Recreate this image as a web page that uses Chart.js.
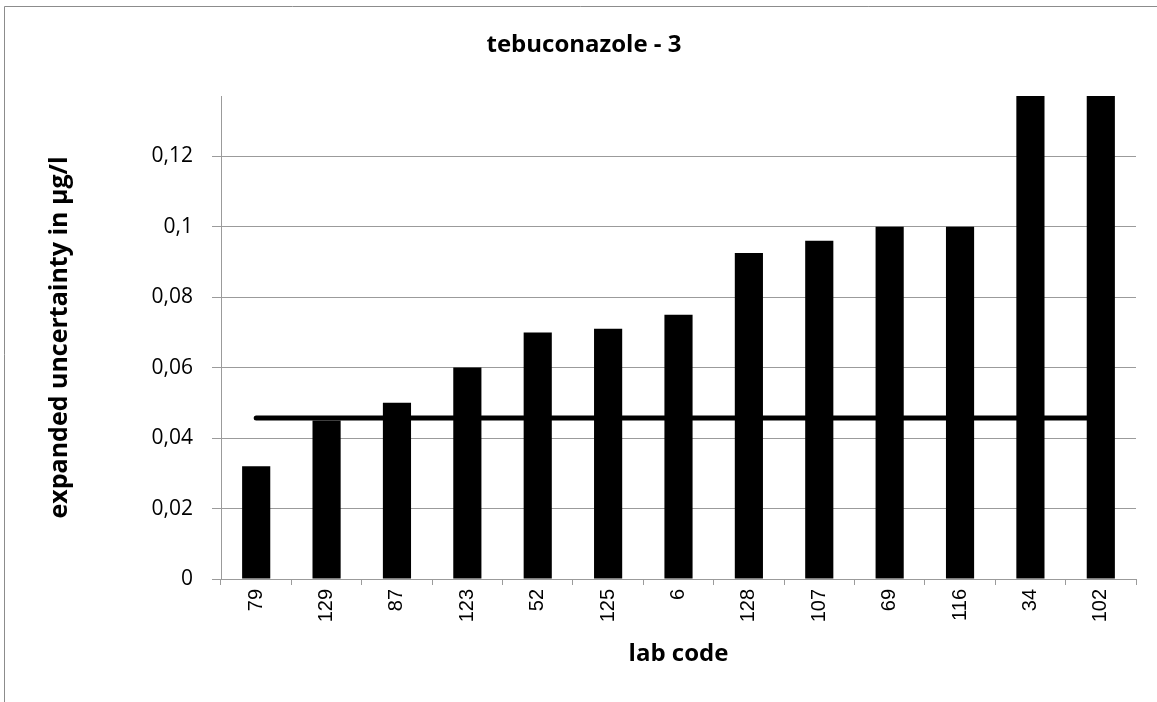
<!DOCTYPE html>
<html>
<head>
<meta charset="utf-8">
<script src="https://cdn.jsdelivr.net/npm/chart.js@4/dist/chart.umd.min.js"></script>
<style>
  html, body { margin: 0; padding: 0; background: #fff; }
  #wrap { width: 1157px; height: 702px; position: relative; }
</style>
</head>
<body>
<div id="wrap"><canvas id="c" width="1157" height="702"></canvas></div>
<script>
const labCodes = ['79', '129', '87', '123', '52', '125', '6', '128', '107', '69', '116', '34', '102'];
const uncertainty = [0.032, 0.045, 0.050, 0.060, 0.070, 0.071, 0.075, 0.0925, 0.096, 0.100, 0.100, 0.150, 0.200];
const referenceValue = 0.0457;
const yMax = 0.1371;
const yStep = 0.02;
const chartTitle = 'tebuconazole - 3';
const xTitle = 'lab code';
const yTitle = 'expanded uncertainty in µg/l';

const gridGray = '#9b9b9b';

const frame = {
  id: 'frame',
  beforeDraw(chart) {
    const ctx = chart.ctx;
    ctx.save();
    ctx.fillStyle = '#fff';
    ctx.fillRect(0, 0, chart.width, chart.height);
    ctx.strokeStyle = '#8c8c8c';
    ctx.lineWidth = 1;
    ctx.beginPath();
    ctx.moveTo(4.5, chart.height);
    ctx.lineTo(4.5, 6.5);
    ctx.lineTo(chart.width, 6.5);
    ctx.stroke();
    ctx.restore();
  }
};

new Chart(document.getElementById('c'), {
  data: {
    labels: labCodes,
    datasets: [
      {
        type: 'line',
        data: labCodes.map(() => referenceValue),
        borderColor: '#000',
        borderWidth: 5,
        borderCapStyle: 'round',
        pointRadius: 0,
        fill: false,
        order: 0
      },
      {
        type: 'bar',
        data: uncertainty,
        backgroundColor: '#000',
        borderWidth: 0,
        categoryPercentage: 1.0,
        barPercentage: 0.4,
        order: 1
      }
    ]
  },
  options: {
    responsive: false,
    animation: false,
    devicePixelRatio: 1,
    layout: { padding: { left: 32, right: 21, top: 0, bottom: 0 } },
    plugins: {
      legend: { display: false },
      tooltip: { enabled: false },
      title: {
        display: true,
        text: chartTitle,
        color: '#000',
        font: { family: 'Open Sans', size: 24, weight: 'bold', lineHeight: 1.2 },
        padding: { top: 31, bottom: 36.2 }
      }
    },
    scales: {
      x: {
        offset: true,
        grid: {
          offset: true,
          drawOnChartArea: false,
          drawTicks: true,
          tickLength: 6,
          color: gridGray
        },
        border: { display: true, color: gridGray, width: 1 },
        ticks: {
          autoSkip: false,
          maxRotation: 90,
          minRotation: 90,
          padding: 4,
          color: '#000',
          font: { family: 'Liberation Sans', size: 20 }
        },
        title: {
          display: true,
          text: xTitle,
          color: '#000',
          font: { family: 'Open Sans', size: 24, weight: 'bold', lineHeight: 1.2 },
          padding: { top: 0, bottom: 33 }
        },
        afterFit(s) { s.height = 123; }
      },
      y: {
        min: 0,
        max: yMax,
        grid: {
          color: gridGray,
          lineWidth: 1,
          drawTicks: true,
          tickLength: 9
        },
        border: { display: true, color: gridGray, width: 1 },
        ticks: {
          stepSize: yStep,
          includeBounds: false,
          padding: 19,
          color: '#000',
          font: { family: 'Open Sans', size: 21 },
          callback: v => String(+v.toFixed(2)).replace('.', ',')
        },
        title: {
          display: true,
          text: yTitle,
          color: '#000',
          font: { family: 'Open Sans', size: 25, weight: 'bold', lineHeight: 1.2 },
          padding: { top: 13, bottom: 0 }
        },
        afterFit(s) { s.width = 189; }
      }
    }
  },
  plugins: [frame]
});
</script>
</body>
</html>
